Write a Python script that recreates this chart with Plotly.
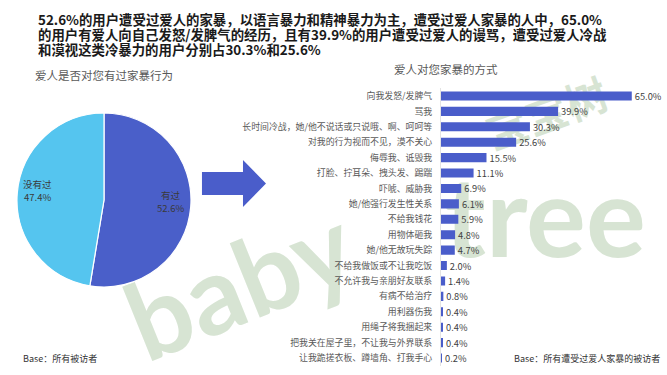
import math
import plotly.graph_objects as go

W, H = 667, 375

title_lines = [
    "52.6%的用户遭受过爱人的家暴，以语言暴力和精神暴力为主，遭受过爱人家暴的人中，65.0%",
    "的用户有爱人向自己发怒/发脾气的经历，且有39.9%的用户遭受过爱人的谩骂，遭受过爱人冷战",
    "和漠视这类冷暴力的用户分别占30.3%和25.6%",
]
pie_title = "爱人是否对您有过家暴行为"
bar_title = "爱人对您家暴的方式"
pie_base = "Base：所有被访者"
bar_base = "Base：所有遭受过爱人家暴的被访者"

pie_labels = ["有过", "没有过"]
pie_values = [52.6, 47.4]
pie_colors = ["#4A5FC9", "#55C5EF"]

bar_categories = [
    "向我发怒/发脾气",
    "骂我",
    "长时间冷战，她/他不说话或只说哦、啊、呵呵等",
    "对我的行为视而不见，漠不关心",
    "侮辱我、诋毁我",
    "打脸、拧耳朵、拽头发、踢踹",
    "吓唬、威胁我",
    "她/他强行发生性关系",
    "不给我钱花",
    "用物体砸我",
    "她/他无故玩失踪",
    "不给我做饭或不让我吃饭",
    "不允许我与亲朋好友联系",
    "有病不给治疗",
    "用利器伤我",
    "用绳子将我捆起来",
    "把我关在屋子里，不让我与外界联系",
    "让我跪搓衣板、蹲墙角、打我手心",
]
bar_values = [65.0, 39.9, 30.3, 25.6, 15.5, 11.1, 6.9, 6.1, 5.9, 4.8, 4.7, 2.0, 1.4, 0.8, 0.4, 0.4, 0.4, 0.2]
bar_color = "#4A5DCA"

FONT = "Noto Sans CJK SC"


def px(x):
    return x / W


def py(y):
    return 1 - y / H


# pie geometry (pixels)
PIE_CX, PIE_CY, PIE_R = 104, 200, 87

fig = go.Figure()

fig.add_trace(go.Pie(
    labels=pie_labels, values=pie_values, sort=False, direction="clockwise", rotation=0,
    marker=dict(colors=pie_colors, line=dict(color="white", width=1.2)),
    textinfo="none",
    domain=dict(x=[px(PIE_CX - PIE_R), px(PIE_CX + PIE_R)], y=[py(PIE_CY + PIE_R), py(PIE_CY - PIE_R)]),
    showlegend=False, hoverinfo="label+value",
))

fig.add_trace(go.Bar(
    x=bar_values, y=bar_categories, orientation="h",
    marker=dict(color=bar_color, line=dict(width=0)),
    texttemplate="%{x:.1f}%", textposition="outside", cliponaxis=False, constraintext="none",
    textfont=dict(family=FONT, size=9.3, color="#404040"),
    xaxis="x", yaxis="y", showlegend=False,
))

# decorative arrow
pts = [(202, 172), (243, 172), (243, 160), (266, 183.5), (243, 207), (243, 195), (202, 195)]
path = "M " + " L ".join(f"{px(x):.4f},{py(y):.4f}" for x, y in pts) + " Z"

shapes = [dict(type="path", xref="paper", yref="paper", path=path,
               fillcolor=bar_color, line=dict(width=0), layer="above")]

wm_color = "#D7E4D3"
wm = [
    ("baby", 238, 280, 108, -22, "Lato"),
    ("tree", 545, 212, 112, 0, "Lato"),
    ("宝宝树", 548, 118, 42, -20, FONT),
]
for txt, cx, cy, size, ang, fam in wm:
    shapes.append(dict(
        type="rect", xref="paper", yref="paper",
        x0=px(cx - 5), x1=px(cx + 5), y0=py(cy + 5), y1=py(cy - 5),
        line=dict(width=0), fillcolor="rgba(0,0,0,0)", layer="below",
        label=dict(text=txt, textangle=ang, textposition="middle center",
                   font=dict(family=fam, size=size, color=wm_color, weight="bold")),
    ))

annotations = []
for i, line in enumerate(title_lines):
    annotations.append(dict(
        text=line, x=px(36), y=py(18.5 + 15.2 * i), xref="paper", yref="paper",
        xanchor="left", yanchor="middle", align="left", showarrow=False,
        font=dict(family=FONT, size=13.4, color="#1a1a1a", weight="bold")))

annotations += [
    dict(text=pie_title, x=px(33), y=py(75), xref="paper", yref="paper", xanchor="left", yanchor="middle",
         showarrow=False, font=dict(family=FONT, size=11.5, color="#595959")),
    dict(text=bar_title, x=px(392), y=py(69), xref="paper", yref="paper", xanchor="left", yanchor="middle",
         showarrow=False, font=dict(family=FONT, size=11.5, color="#595959")),
    dict(text=pie_base, x=px(21), y=py(358), xref="paper", yref="paper", xanchor="left", yanchor="middle",
         showarrow=False, font=dict(family=FONT, size=9, color="#333333")),
    dict(text=bar_base, x=px(512), y=py(358), xref="paper", yref="paper", xanchor="left", yanchor="middle",
         showarrow=False, font=dict(family=FONT, size=9, color="#333333")),
]

# pie slice labels, placed along each slice's mid-angle (clockwise from 12 o'clock)
total = sum(pie_values)
cum = 0.0
for lab, val in zip(pie_labels, pie_values):
    mid = (cum + val / 2) / total * 2 * math.pi
    cum += val
    lx = PIE_CX + 0.77 * PIE_R * math.sin(mid)
    ly = PIE_CY - 0.77 * PIE_R * math.cos(mid) - 4
    for j, t in enumerate([lab, f"{val:.1f}%"]):
        annotations.append(dict(
            text=t, x=px(lx), y=py(ly - 6.5 + 13 * j), xref="paper", yref="paper",
            xanchor="center", yanchor="middle", align="center", showarrow=False,
            font=dict(family=FONT, size=9.5, color="#3a3a3a"),
        ))

fig.update_layout(
    width=W, height=H, margin=dict(l=0, r=0, t=0, b=0),
    paper_bgcolor="white", plot_bgcolor="rgba(0,0,0,0)",
    font=dict(family=FONT),
    bargap=0.41,
    xaxis=dict(domain=[px(441), 1.0], range=[0, 77], visible=False, fixedrange=True),
    yaxis=dict(domain=[py(365.7), py(88.3)], autorange="reversed", showgrid=False, zeroline=False,
               showline=True, linecolor="#e3e3e3", linewidth=1, ticks="",
               ticklabelstandoff=6,
               tickfont=dict(family=FONT, size=8.9, color="#595959")),
    shapes=shapes,
    annotations=annotations,
)

fig.write_html("out.html", config={"displayModeBar": False},
               post_script="document.body.style.margin='0';document.body.style.overflow='hidden';")
